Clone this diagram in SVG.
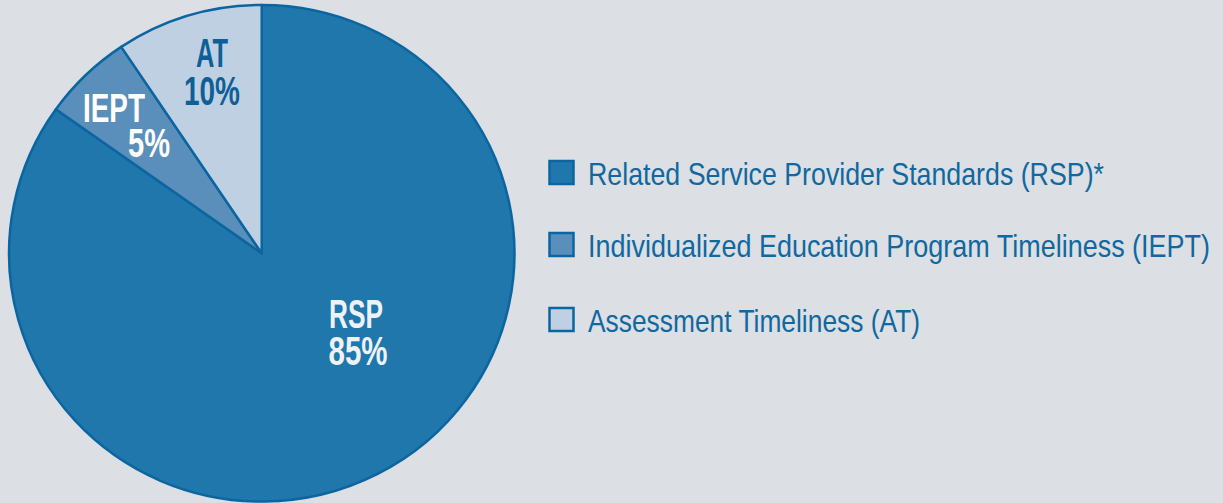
<svg xmlns="http://www.w3.org/2000/svg" width="1223" height="503" viewBox="0 0 1223 503">
<style>
.sl{stroke:#0b65a0;stroke-width:2.5;stroke-linejoin:round}
.lb{font-family:"Liberation Sans",Arial,sans-serif;font-weight:bold;font-size:40px;text-anchor:middle}
.lg{font-family:"Liberation Sans",Arial,sans-serif;font-size:32px;fill:#1068a0}
.sw{stroke:#0b65a0;stroke-width:2.5}
</style>
<rect width="1223" height="503" fill="#dcdfe3"/>
<g id="pie">
<g id="rsp">
<path class="sl" fill="#1f77ab" d="M261.7,253.3 L261.7,5 A252.7,248.3 0 1 1 55.9,109.3 Z"/>
<text class="lb" fill="#eef2f7"><tspan x="356" y="328" textLength="54" lengthAdjust="spacingAndGlyphs">RSP</tspan><tspan x="358" y="365" textLength="59" lengthAdjust="spacingAndGlyphs">85%</tspan></text>
</g>
<g id="iept">
<path class="sl" fill="#5b8fbb" d="M261.7,253.3 L55.9,109.3 A252.7,248.3 0 0 1 121.2,46.9 Z"/>
<text class="lb" fill="#ffffff"><tspan x="114" y="122" textLength="62" lengthAdjust="spacingAndGlyphs">IEPT</tspan><tspan x="149" y="157" textLength="42" lengthAdjust="spacingAndGlyphs">5%</tspan></text>
</g>
<g id="at">
<path class="sl" fill="#c0d0e3" d="M261.7,253.3 L121.2,46.9 A252.7,248.3 0 0 1 261.7,5 Z"/>
<text class="lb" fill="#0d5f97"><tspan x="212" y="67" textLength="32" lengthAdjust="spacingAndGlyphs">AT</tspan><tspan x="212" y="105" textLength="56" lengthAdjust="spacingAndGlyphs">10%</tspan></text>
</g>
</g>
<g id="legend">
<g id="leg-rsp">
<rect class="sw" x="549.5" y="161" width="24" height="23" fill="#1f77ab"/>
<text class="lg" transform="translate(588,185) scale(0.85,1)" x="0" y="0" textLength="607" lengthAdjust="spacingAndGlyphs">Related Service Provider Standards (RSP)*</text>
</g>
<g id="leg-iept">
<rect class="sw" x="549.5" y="233" width="24" height="23" fill="#5b8fbb"/>
<text class="lg" transform="translate(588,257) scale(0.85,1)" x="0" y="0" textLength="731.8" lengthAdjust="spacingAndGlyphs">Individualized Education Program Timeliness (IEPT)</text>
</g>
<g id="leg-at">
<rect class="sw" x="549.5" y="308" width="24" height="23" fill="#c0d0e3"/>
<text class="lg" transform="translate(588,332) scale(0.85,1)" x="0" y="0" textLength="390.6" lengthAdjust="spacingAndGlyphs">Assessment Timeliness (AT)</text>
</g>
</g>
</svg>
